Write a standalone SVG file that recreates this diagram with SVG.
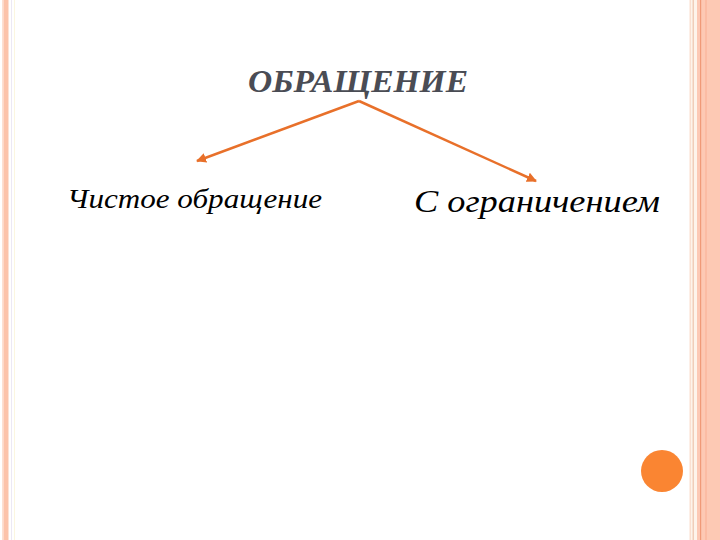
<svg xmlns="http://www.w3.org/2000/svg" width="720" height="540" viewBox="0 0 720 540">
<style>
.t{font-family:"Liberation Serif","DejaVu Serif",serif;font-style:italic}
.c{stroke:#e8702a;stroke-width:2.5;fill:none}
</style>
<defs>
<marker id="ah" viewBox="0 0 10 10" refX="9" refY="5" markerWidth="4" markerHeight="4" orient="auto" markerUnits="strokeWidth">
<path d="M0,0 L10,5 L0,10 z" fill="#e8702a"/>
</marker>
</defs>
<rect width="720" height="540" fill="#ffffff"/>
<g id="border">
<rect x="2" y="0" width="1.5" height="540" fill="#fde0d2"/>
<rect x="3.5" y="0" width="5" height="540" fill="#fcc3aa"/>
<rect x="11" y="0" width="1" height="540" fill="#ece8f4"/>
<rect x="14" y="0" width="1" height="540" fill="#fbf6e0"/>
<rect x="689.5" y="0" width="1.5" height="540" fill="#fbe0d0"/>
<rect x="691" y="0" width="6" height="540" fill="#fef4ea"/>
<rect x="692.5" y="0" width="1.5" height="540" fill="#f0cdb8"/>
<rect x="697" y="0" width="23" height="540" fill="#fdc9b4"/>
<rect x="700" y="0" width="1.2" height="540" fill="#f09a78"/>
<rect x="705" y="0" width="2" height="540" fill="#fbbca4"/>
</g>
<g id="node-title"><text class="t" x="358" y="92" font-size="31" font-weight="bold" fill="#4a4c54" text-anchor="middle" textLength="220" lengthAdjust="spacingAndGlyphs">ОБРАЩЕНИЕ</text></g>
<g id="node-left"><text class="t" x="67" y="208" font-size="27" fill="#000" textLength="255" lengthAdjust="spacingAndGlyphs">Чистое обращение</text></g>
<g id="node-right"><text class="t" x="414" y="212" font-size="32" fill="#000" textLength="246" lengthAdjust="spacingAndGlyphs">С ограничением</text></g>
<g id="connectors">
<path class="c" d="M359,101 L197,161" marker-end="url(#ah)"/>
<path class="c" d="M359,101 L536,181" marker-end="url(#ah)"/>
</g>
<g id="dot"><circle cx="662" cy="471" r="21" fill="#fa8532"/></g>
</svg>
